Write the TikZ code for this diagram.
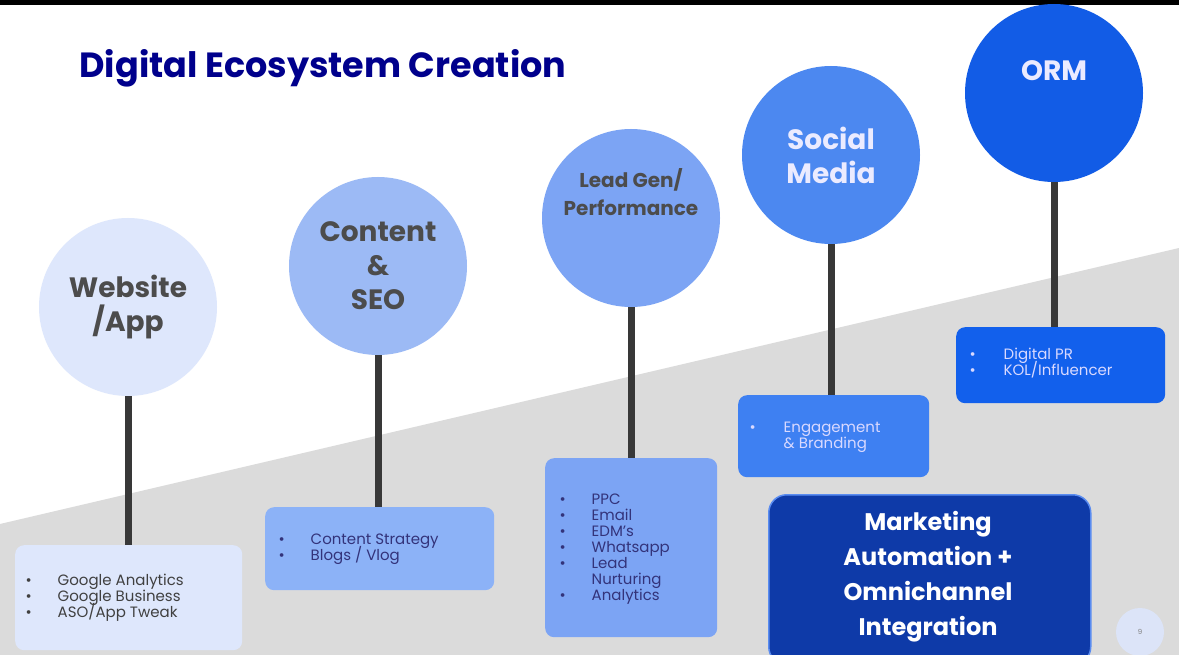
\documentclass[tikz,border=0pt]{standalone}
\usepackage{fontspec}
\setmainfont{Poppins}
\begin{document}
\begin{tikzpicture}[x=1pt,y=-1pt,
  circ/.style={circle,minimum size=178pt,inner sep=0pt,align=center,font=\bfseries\fontsize{28}{34}\selectfont},
  stem/.style={line width=7pt,color=black!78},
  box/.style={rounded corners=9pt,anchor=north west,inner sep=0pt},
  blist/.style={align=left,font=\fontsize{15}{19}\selectfont,anchor=west}]
\useasboundingbox (0,0) rectangle (1179,655);
\fill[white] (0,0) rectangle (1179,655);
\fill[black] (0,0) rectangle (1179,5);
\fill[gray!28] (0,524) -- (1179,248) -- (1179,655) -- (0,655) -- cycle;
\node[anchor=west,text=blue!55!black,font=\bfseries\fontsize{35}{40}\selectfont] (title) at (76,68) {Digital Ecosystem Creation};
% circles
\node[circ,fill={rgb,255:red,222;green,231;blue,252},text=black!70] (c1) at (128,307) {Website\\/App};
\node[circ,fill={rgb,255:red,156;green,186;blue,245},text=black!70] (c2) at (378,266) {Content\\\&\\SEO};
\node[circ,fill={rgb,255:red,124;green,164;blue,244},text=black!70,font=\bfseries\fontsize{20}{28}\selectfont] (c3) at (631,218) {Lead Gen/\\Performance\\[24pt]};
\node[circ,fill={rgb,255:red,76;green,136;blue,240},text=white!92!blue] (c4) at (831,155) {Social\\Media};
\node[circ,fill={rgb,255:red,18;green,92;blue,230},text=white!92!blue] (c5) at (1054,93) {ORM\\[10pt]};
% boxes
\path (15,545) node[box,fill={rgb,255:red,222;green,231;blue,252},minimum width=227pt,minimum height=105pt] (b1) {};
\path (265,507) node[box,fill={rgb,255:red,140;green,178;blue,247},minimum width=229pt,minimum height=83pt] (b2) {};
\path (545,458) node[box,fill={rgb,255:red,124;green,164;blue,244},minimum width=172pt,minimum height=179pt] (b3) {};
\path (738,395) node[box,fill={rgb,255:red,62;green,128;blue,242},minimum width=191pt,minimum height=82pt] (b4) {};
\path (956,327) node[box,fill={rgb,255:red,18;green,96;blue,236},minimum width=209pt,minimum height=76pt] (b5) {};
\path (768,494) node[box,rounded corners=18pt,fill={rgb,255:red,14;green,58;blue,168},draw={rgb,255:red,90;green,140;blue,240},line width=1.5pt,minimum width=322pt,minimum height=170pt] (b6) {};
\node[align=center,text=white,font=\bfseries\fontsize{24}{35}\selectfont] (mt) at (928,577) {Marketing\\Automation +\\Omnichannel\\Integration};
\node[circle,fill={rgb,255:red,220;green,228;blue,248},minimum size=48pt,inner sep=0pt,font=\fontsize{7}{7}\selectfont,text=gray] (pg) at (1140,632) {9};
% stems
\draw[stem] (c1.south) -- (c1.south |- b1.north);
\draw[stem] (c2.south) -- (c2.south |- b2.north);
\draw[stem] (c3.south) -- (c3.south |- b3.north);
\draw[stem] (c4.south) -- (c4.south |- b4.north);
\draw[stem] (c5.south) -- (c5.south |- b5.north);
% lists
\node[blist,text=black!75] (l1) at (22,598) {\textbullet\hspace{26pt}Google Analytics\\[-3pt]\textbullet\hspace{26pt}Google Business\\[-3pt]\textbullet\hspace{26pt}ASO/App Tweak};
\node[blist,text=blue!35!black!80] (l2) at (275,549) {\textbullet\hspace{26pt}Content Strategy\\[-3pt]\textbullet\hspace{26pt}Blogs / Vlog};
\node[blist,text=blue!35!black!80] (l3) at (556,549) {\textbullet\hspace{26pt}PPC\\[-3pt]\textbullet\hspace{26pt}Email\\[-3pt]\textbullet\hspace{26pt}EDM's\\[-3pt]\textbullet\hspace{26pt}Whatsapp\\[-3pt]\textbullet\hspace{26pt}Lead\\[-3pt]\hphantom{\textbullet}\hspace{26pt}Nurturing\\[-3pt]\textbullet\hspace{26pt}Analytics};
\node[blist,text=white!85!blue] (l4) at (746,437) {\textbullet\hspace{28pt}Engagement\\[-3pt]\hphantom{\textbullet}\hspace{28pt}\& Branding};
\node[blist,text=white!85!blue] (l5) at (966,363) {\textbullet\hspace{28pt}Digital PR\\[-3pt]\textbullet\hspace{28pt}KOL/Influencer};
\end{tikzpicture}
\end{document}
